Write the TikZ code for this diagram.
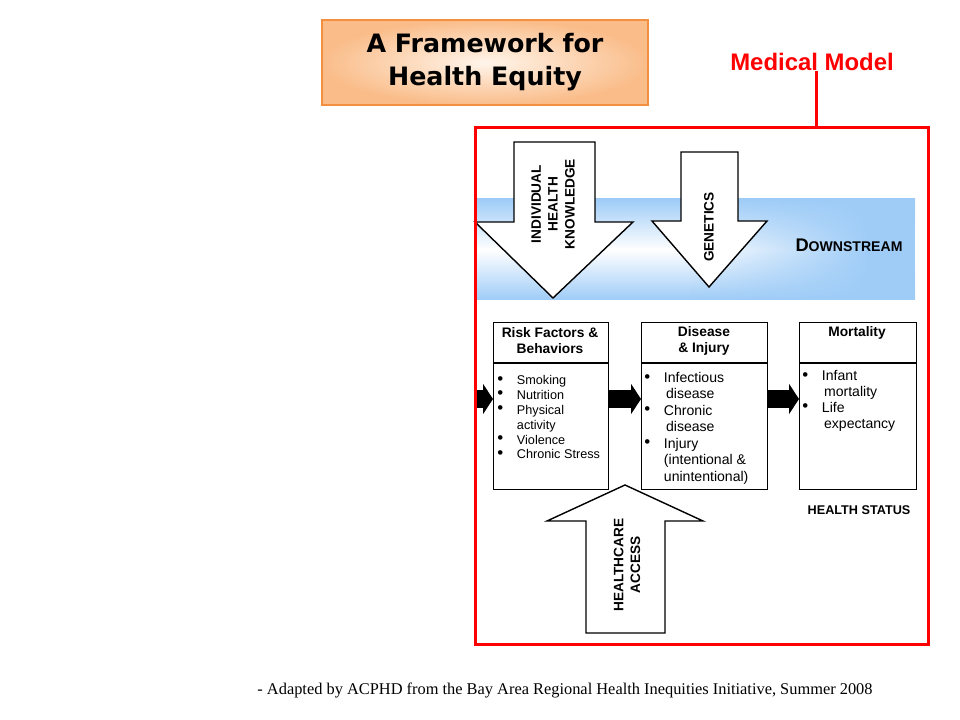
\documentclass[tikz,border=0pt]{standalone}
\usepackage{fontspec}
\setmainfont{Liberation Sans}
\newfontfamily\verdfont{DejaVu Sans}
\newfontfamily\timesfont{Liberation Serif}
\usetikzlibrary{arrows.meta,fadings}
\definecolor{ffqqqq}{rgb}{1,0,0}
\definecolor{ffbb88}{rgb}{0.98,0.74,0.54}
\definecolor{fff4ea}{rgb}{1,0.96,0.92}
\definecolor{ff8833}{rgb}{0.96,0.56,0.25}
\definecolor{aaccff}{rgb}{0.62,0.8,0.97}
\newcommand{\bul}{\makebox[14pt][l]{\raisebox{0.3pt}{\large\textbullet}}}
\newcommand{\nob}{\makebox[14pt][l]{}}

\begin{document}
\begin{tikzpicture}[line cap=butt,line join=miter,x=0.025cm,y=-0.025cm,
  box/.style={draw,line width=1pt,inner sep=0pt,anchor=north west,minimum height=4.175cm},
  blockarrow/.style={draw,line width=1pt,fill=white},
  flow/.style={line width=12.7pt,-{Triangle[length=7pt,width=21pt]}},
  hdrtext/.style={font=\bfseries\fontsize{9.8}{11.3}\selectfont,align=center,inner sep=0pt},
  rottext/.style={font=\bfseries\fontsize{9.7}{12}\selectfont,align=center,rotate=90,inner sep=0pt}]
\useasboundingbox (0,0) rectangle (960,720);
\node [draw=ff8833,line width=0.8pt,inner color=fff4ea,outer color=ffbb88,minimum width=8.15cm,minimum height=2.125cm,align=center,font=\verdfont\bfseries\fontsize{18}{23.4}\selectfont] (title) at (485,62.5) {A Framework for\\Health Equity};
\node [text=ffqqqq,font=\bfseries\fontsize{17}{20}\selectfont,inner sep=0pt] (medmodel) at (812,62) {Medical Model};
\shade [top color=aaccff,bottom color=aaccff,middle color=white] (475,199) rectangle (915,300);
\fill [aaccff,path fading=west] (690,199) rectangle (870,300);
\fill [aaccff] (869,199) rectangle (915,300);
\draw [blockarrow] (514,142) -- (595,142) -- (595,222) -- (633,222) -- (553,298) -- (475,222) -- (514,222) -- cycle;
\node [rottext] (ihk) at (553,204) {INDIVIDUAL\\HEALTH\\KNOWLEDGE};
\draw [blockarrow] (681,152) -- (738,152) -- (738,221) -- (767,221) -- (709,287) -- (652,221) -- (681,221) -- cycle;
\node [rottext] (genetics) at (709,227) {GENETICS};
\node [font=\bfseries,inner sep=0pt] (downstream) at (849,245) {{\fontsize{13}{15}\selectfont D}{\fontsize{10}{12}\selectfont OWNSTREAM}};
\coordinate (div) at (0,363);
\coordinate (lvl) at (0,399);
\coordinate (inleft) at (476,399);
\node [box,minimum width=2.875cm] (risk) at (493,322) {};
\node [box,minimum width=3.15cm] (disease) at (641,322) {};
\node [box,minimum width=2.925cm] (mortality) at (799,322) {};
\draw [line width=1pt] (risk.west |- div) -- (risk.east |- div);
\draw [line width=1pt] (disease.west |- div) -- (disease.east |- div);
\draw [line width=1pt] (mortality.west |- div) -- (mortality.east |- div);
\node [hdrtext] (riskt) at (550,341) {Risk Factors \&\\Behaviors};
\node [hdrtext] (diseaset) at (704,341) {Disease\\\& Injury};
\node [hdrtext] (mortt) at (857,333) {Mortality};
\node [anchor=north west,inner sep=0pt,align=left,font=\fontsize{9}{10.6}\selectfont] (riskl) at (497,375) {\bul Smoking\\\bul Nutrition\\\bul Physical\\\nob activity\\\bul Violence\\\bul Chronic Stress};
\node [anchor=north west,inner sep=0pt,align=left,font=\fontsize{10}{11.7}\selectfont] (diseasel) at (644,372) {\bul Infectious\\\nob\hspace{1.5pt}disease\\\bul Chronic\\\nob\hspace{1.5pt}disease\\\bul Injury\\\nob (intentional \&\\\nob unintentional)};
\node [anchor=north west,inner sep=0pt,align=left,font=\fontsize{10}{11.3}\selectfont] (mortl) at (802,370) {\bul Infant\\\nob\hspace{1.5pt}mortality\\\bul Life\\\nob\hspace{1.5pt}expectancy};
\draw [flow] (inleft) -- (risk.west |- lvl);
\draw [flow] (risk.east |- lvl) -- (disease.west |- lvl);
\draw [flow] (disease.east |- lvl) -- (mortality.west |- lvl);
\draw [blockarrow] (586,633) -- (586,521) -- (547,521) -- (625,485) -- (703,521) -- (665,521) -- (665,633) -- cycle;
\node [rottext] (access) at (627,565) {HEALTHCARE\\ACCESS};
\node [font=\bfseries\fontsize{9}{11}\selectfont,inner sep=0pt] (status) at (859,510) {HEALTH STATUS};
\node [draw=ffqqqq,line width=2.2pt,inner sep=0pt,anchor=north west,minimum width=11.325cm,minimum height=12.925cm] (medbox) at (474,126) {};
\draw [ffqqqq,line width=2.2pt] ([xshift=3.5pt]medmodel.south) -- ([xshift=3.5pt]medmodel.south |- medbox.north);
\node [font=\timesfont\fontsize{11.65}{13}\selectfont,inner sep=0pt] (source) at (565,690) {- Adapted by ACPHD from the Bay Area Regional Health Inequities Initiative, Summer 2008};
\end{tikzpicture}
\end{document}
